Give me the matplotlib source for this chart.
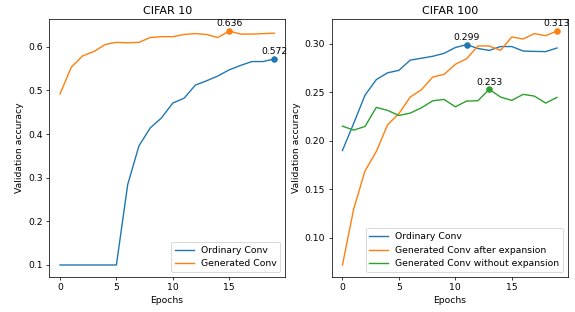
import matplotlib
matplotlib.use("Agg")
import matplotlib.pyplot as plt
from matplotlib.ticker import MultipleLocator
import numpy as np

epochs = list(range(20))

c10_ordinary = [0.100, 0.100, 0.100, 0.100, 0.100, 0.100, 0.284, 0.373, 0.414, 0.437,
                0.471, 0.482, 0.512, 0.522, 0.533, 0.547, 0.557, 0.566, 0.566, 0.572]
c10_generated = [0.492, 0.553, 0.579, 0.589, 0.605, 0.610, 0.609, 0.610, 0.621, 0.623,
                 0.623, 0.628, 0.630, 0.628, 0.621, 0.636, 0.629, 0.629, 0.630, 0.631]

c100_ordinary = [0.190, 0.218, 0.247, 0.263, 0.270, 0.2725, 0.283, 0.285, 0.287, 0.290,
                 0.296, 0.299, 0.295, 0.293, 0.297, 0.297, 0.2924, 0.292, 0.2918, 0.2955]
c100_after = [0.0722, 0.130, 0.169, 0.189, 0.2165, 0.228, 0.245, 0.2526, 0.2656, 0.2684,
              0.2787, 0.2845, 0.2976, 0.2976, 0.2931, 0.3069, 0.3048, 0.3103, 0.3082, 0.313]
c100_without = [0.2151, 0.211, 0.2148, 0.2344, 0.2313, 0.2261, 0.2285, 0.234, 0.2412, 0.2426,
                0.235, 0.2409, 0.2412, 0.253, 0.245, 0.2416, 0.2478, 0.246, 0.2388, 0.2447]

DPI = 66.6
fig = plt.figure(figsize=(575 / DPI, 312 / DPI), dpi=DPI)
ax1 = fig.add_axes([49.3 / 575, 35.3 / 312, 235.7 / 575, 257.4 / 312])
ax2 = fig.add_axes([331.7 / 575, 35.3 / 312, 236.0 / 575, 257.4 / 312])


def mark_max(ax, y, color):
    i = int(np.argmax(y))
    ax.plot(epochs[i], y[i], 'o', color=color)
    ax.annotate(f"{y[i]:.3f}", (epochs[i], y[i]), textcoords='offset points',
                xytext=(0, 5), ha='center')


ax1.plot(epochs, c10_ordinary, color='C0', label='Ordinary Conv')
ax1.plot(epochs, c10_generated, color='C1', label='Generated Conv')
mark_max(ax1, c10_ordinary, 'C0')
mark_max(ax1, c10_generated, 'C1')
ax1.set_title('CIFAR 10')
ax1.set_xlabel('Epochs')
ax1.set_ylabel('Validation accuracy')
ax1.xaxis.set_major_locator(MultipleLocator(5))
ax1.legend(loc='lower right')

ax2.plot(epochs, c100_ordinary, color='C0', label='Ordinary Conv')
ax2.plot(epochs, c100_after, color='C1', label='Generated Conv after expansion')
ax2.plot(epochs, c100_without, color='C2', label='Generated Conv without expansion')
mark_max(ax2, c100_ordinary, 'C0')
mark_max(ax2, c100_after, 'C1')
mark_max(ax2, c100_without, 'C2')
ax2.set_title('CIFAR 100')
ax2.set_xlabel('Epochs')
ax2.set_ylabel('Validation accuracy')
ax2.xaxis.set_major_locator(MultipleLocator(5))
ax2.legend(loc='lower right')

fig.savefig('out.png', dpi=DPI)
